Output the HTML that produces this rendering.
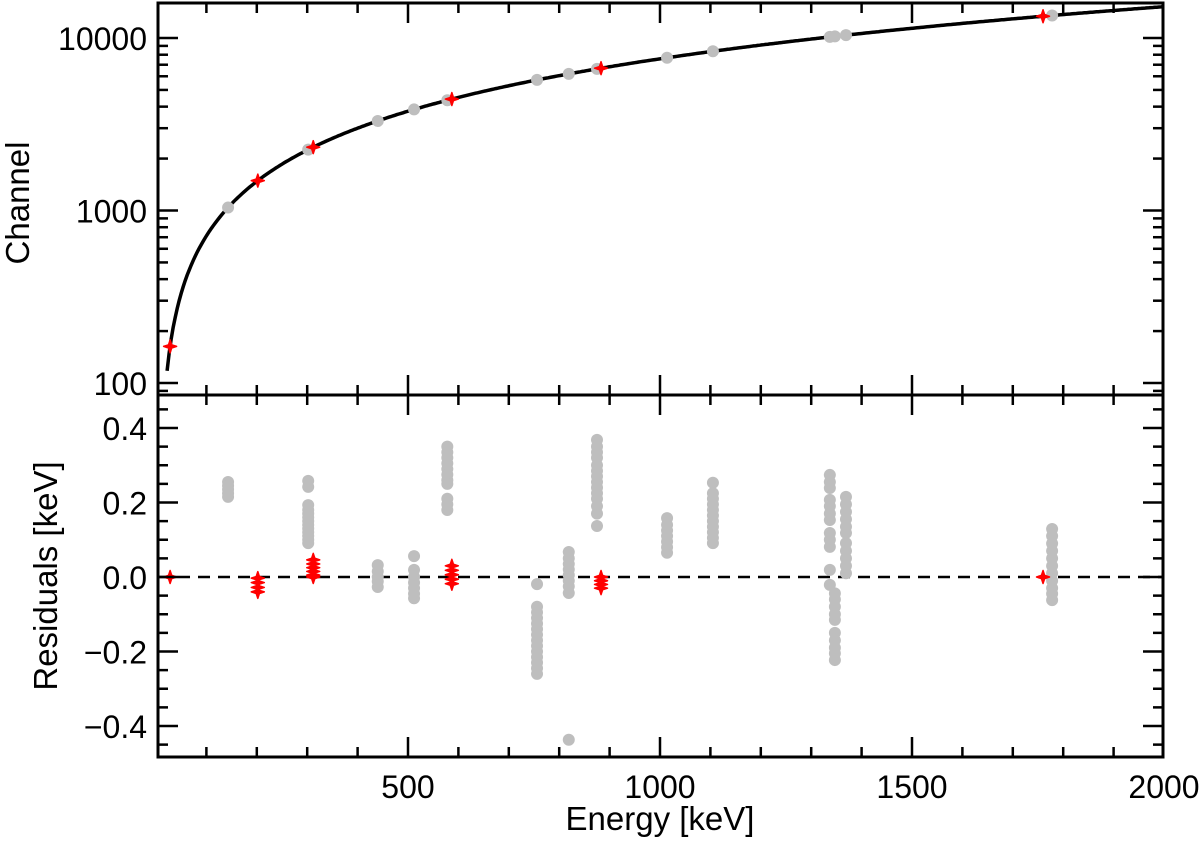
<!DOCTYPE html>
<html><head><meta charset="utf-8"><style>
body{margin:0;background:#fff}
svg{display:block}
text{font-family:"Liberation Sans",Arial,sans-serif;fill:#000}
</style></head><body>
<svg id="chart" width="1200" height="843" viewBox="0 0 1200 843" xmlns="http://www.w3.org/2000/svg">
<defs><clipPath id="cTop"><rect x="158" y="3" width="1005" height="392"/></clipPath>
<clipPath id="cBot"><rect x="158" y="395" width="1005" height="362"/></clipPath></defs>
<g id="topPanel" clip-path="url(#cTop)"></g>
<g id="botPanel" clip-path="url(#cBot)"></g>
<g id="axes"></g>
<text x="29" y="203" font-size="33" text-anchor="middle" transform="rotate(-90 29 203)">Channel</text>
<text x="57" y="576" font-size="33" text-anchor="middle" transform="rotate(-90 57 576)">Residuals [keV]</text>
<text x="660" y="830" font-size="33" text-anchor="middle">Energy [keV]</text>
</svg>
<script>
const grayEnergy=[143,302,440,512,578,756,819,875,1014,1105,1337,1347,1369,1778];
const grayChannel=[1040,2253,3305,3854,4357,5715,6195,6622,7682,8376,10145,10221,10389,13507];
const redEnergy=[28,202,312,587,883,1760];
const redChannel=[163,1490,2329,4426,6683,13370];
const fitSlope=7.625, fitOffset=-50;
const residGray=[
 [143,[0.255,0.245,0.235,0.225,0.215]],
 [302,[0.258,0.242,0.193,0.18,0.17,0.16,0.15,0.14,0.13,0.12,0.11,0.1,0.091]],
 [440,[0.032,0.015,0.0,-0.012,-0.027]],
 [512,[0.056,0.019,0.0,-0.015,-0.03,-0.045,-0.057]],
 [578,[0.35,0.335,0.32,0.305,0.29,0.275,0.26,0.25,0.21,0.195,0.18]],
 [756,[-0.019,-0.08,-0.095,-0.11,-0.125,-0.14,-0.155,-0.17,-0.185,-0.2,-0.215,-0.23,-0.245,-0.26]],
 [819,[0.067,0.05,0.035,0.02,0.005,-0.01,-0.025,-0.043,-0.437]],
 [875,[0.368,0.35,0.335,0.32,0.3,0.285,0.27,0.255,0.24,0.225,0.21,0.19,0.17,0.137]],
 [1014,[0.158,0.14,0.125,0.11,0.095,0.08,0.065]],
 [1105,[0.253,0.225,0.21,0.195,0.18,0.165,0.15,0.135,0.12,0.105,0.091]],
 [1337,[0.274,0.255,0.239,0.207,0.19,0.17,0.153,0.118,0.1,0.081,0.019,-0.021]],
 [1347,[-0.044,-0.06,-0.08,-0.1,-0.115,-0.15,-0.17,-0.19,-0.205,-0.223]],
 [1369,[0.215,0.195,0.175,0.155,0.135,0.118,0.091,0.07,0.05,0.03,0.01]],
 [1778,[0.129,0.11,0.09,0.07,0.05,0.03,0.01,-0.01,-0.03,-0.045,-0.062]]
];
const residRed=[
 [28,[0.0]],[202,[-0.003,-0.015,-0.028,-0.04]],[312,[0.046,0.035,0.025,0.015,0.005,0.0]],
 [587,[0.03,0.018,0.006,-0.006,-0.018]],[883,[0.0,-0.01,-0.02,-0.03]],[1760,[0.0]]
];
const xTickLabels=[500,1000,1500,2000];
const logTickLabels=[100,1000,10000];
const residTickLabels=[0.4,0.2,0.0,-0.2,-0.4];

const NS="http://www.w3.org/2000/svg";
const X=e=>156+e*0.504;
const YL=c=>38-172.5*(Math.log10(c)-4);
const YR=r=>577-r*372.5;
const L=158,R=1163,T=3,M=395,B=757;
function mk(tag,attrs,parent){const el=document.createElementNS(NS,tag);for(const k in attrs)el.setAttribute(k,attrs[k]);parent.appendChild(el);return el;}
const gTop=document.getElementById('topPanel'),gBot=document.getElementById('botPanel'),ax=document.getElementById('axes');
function star(x,y,parent){
  const s=6.5,w=1.6;
  return mk('polygon',{points:`${x},${y-s} ${x+w},${y-w} ${x+s},${y} ${x+w},${y+w} ${x},${y+s} ${x-w},${y+w} ${x-s},${y} ${x-w},${y-w}`,fill:'#ff0000',stroke:'#ff0000','stroke-width':1.5,'stroke-linejoin':'round'},parent);
}
let d='';
for(let e=22;e<=2010;e+=4){const c=fitSlope*e+fitOffset;d+=(d?'L':'M')+X(e).toFixed(1)+','+YL(c).toFixed(1);}
const curve=mk('path',{d:d,fill:'none',stroke:'#000','stroke-width':3.5},gTop);


grayEnergy.forEach((e,i)=>{const c=mk('circle',{cx:X(e),cy:YL(grayChannel[i]),r:6,fill:'#bebebe'},gTop);

});
redEnergy.forEach((e,i)=>{const s=star(X(e),YL(redChannel[i]),gTop);

});
const zl=mk('line',{x1:L,x2:R,y1:YR(0),y2:YR(0),stroke:'#000','stroke-width':2.5,'stroke-dasharray':'12,8'},gBot);


residGray.forEach(([e,vals])=>vals.forEach(v=>{const c=mk('circle',{cx:X(e),cy:YR(v),r:6,fill:'#bebebe'},gBot);

}));
residRed.forEach(([e,vals])=>vals.forEach(v=>{const s=star(X(e),YR(v),gBot);

}));
[[T,M],[M,B]].forEach(([a,b])=>mk('rect',{x:L,y:a,width:R-L,height:b-a,fill:'none',stroke:'#000','stroke-width':3},ax));
function tick(x1,y1,x2,y2){mk('line',{x1:x1,y1:y1,x2:x2,y2:y2,stroke:'#000','stroke-width':2.5},ax);}
for(let e=100;e<2000;e+=100){const x=X(e);const len=e%500===0?20:10;
 [[T,1],[M,-1],[M,1],[B,-1]].forEach(([y,s])=>tick(x,y,x,y+s*len));}
xTickLabels.forEach(v=>{const t=mk('text',{x:X(v),y:798,'font-size':32,'text-anchor':'middle'},ax);t.textContent=v;

});
for(let dec=10;dec<=10000;dec*=10){for(let m=1;m<10;m++){const c=dec*m;const y=YL(c);if(y<T+1||y>M-1)continue;const len=m===1?20:10;tick(L,y,L+len,y);tick(R,y,R-len,y);}}
logTickLabels.forEach(v=>{const t=mk('text',{x:147,y:YL(v)+12,'font-size':32,'text-anchor':'end'},ax);t.textContent=v;

});
for(let k=-9;k<=9;k++){const r=k*0.05;const y=YR(r);if(y<M+2||y>B-2)continue;const len=k%4===0?20:10;tick(L,y,L+len,y);tick(R,y,R-len,y);}
residTickLabels.forEach(v=>{const t=mk('text',{x:147,y:YR(v)+12,'font-size':32,'text-anchor':'end'},ax);t.textContent=(v<0?'\u2212':'')+Math.abs(v).toFixed(1);

});
</script>
</body></html>
